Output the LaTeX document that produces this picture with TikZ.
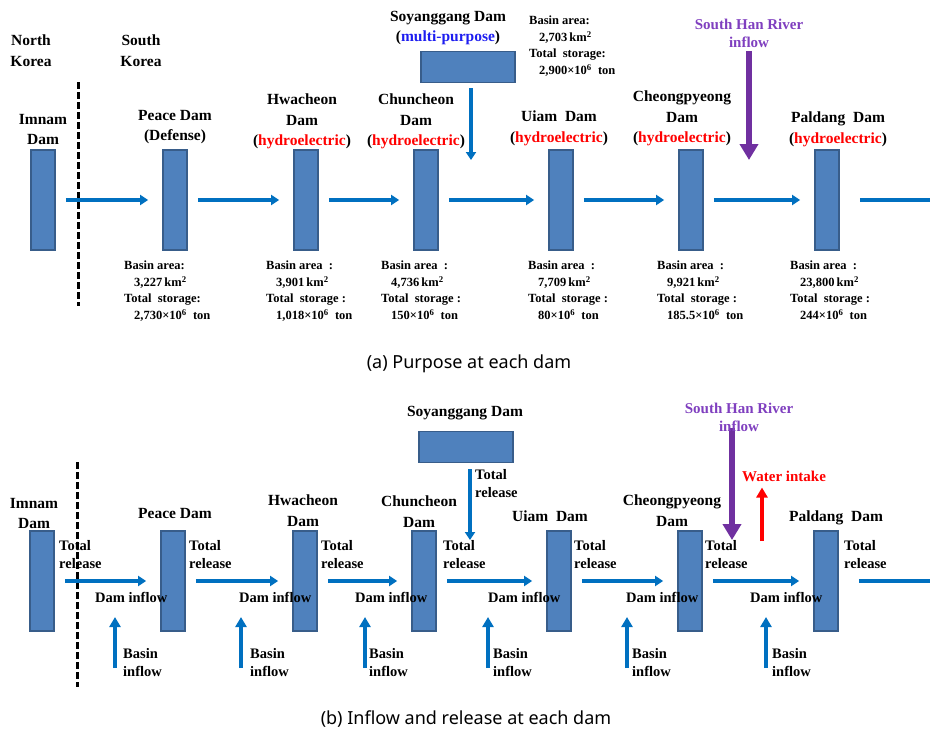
\documentclass[tikz,border=0pt]{standalone}
\usepackage{fontspec}
\setmainfont{Liberation Serif}
\newfontfamily\capfont{Noto Sans}
\usepackage{xcolor}
\usepackage{tikz}
\usetikzlibrary{arrows.meta, positioning, calc}

\definecolor{damfill}{HTML}{4F81BD}
\definecolor{damedge}{HTML}{385D8A}
\definecolor{flowblue}{HTML}{0070C0}
\definecolor{hanpurple}{HTML}{7030A0}
\definecolor{hantext}{HTML}{7F3FBF}
\definecolor{hydred}{HTML}{FF0000}
\definecolor{multiblue}{HTML}{1E1EF0}

\newcommand{\hydro}{(\textcolor{hydred}{hydroelectric})}

\begin{document}
\begin{tikzpicture}[
    x=1pt, y=-1pt,
    dam/.style={rectangle, draw=damedge, fill=damfill, line width=1.8pt, minimum width=24pt, minimum height=100pt, inner sep=0pt},
    soybox/.style={rectangle, draw=damedge, fill=damfill, line width=1.8pt, minimum width=94pt, minimum height=31pt, inner sep=0pt},
    damname/.style={font=\bfseries\fontsize{15.5}{20.5}\selectfont, align=center, inner sep=0pt, anchor=north},
    info/.style={font=\bfseries\fontsize{12.5}{16.5}\selectfont, align=left, inner sep=0pt, anchor=north west},
    note/.style={font=\bfseries\fontsize{14.5}{18.5}\selectfont, align=left, inner sep=0pt, anchor=north west},
    flow/.style={draw=flowblue, line width=3.2pt, -{Triangle[length=8pt,width=10pt]}},
    link/.style={flow, shorten <=10pt, shorten >=14pt},
    upflow/.style={draw=flowblue, line width=3.5pt, -{Triangle[length=10pt,width=11pt]}},
    border/.style={black, line width=3pt, dash pattern=on 6.5pt off 3.5pt},
    caption/.style={font=\capfont\fontsize{18}{22}\selectfont, inner sep=0pt}
]
\useasboundingbox (0,0) rectangle (930,732);

% ---------- (a) Purpose at each dam ----------
% Dams
\node[dam] (imA) at (43,200) {};
\node[dam] (peA) at (175,200) {};
\node[dam] (hwA) at (306,200) {};
\node[dam] (chA) at (426,200) {};
\node[dam] (uiA) at (561,200) {};
\node[dam] (cpA) at (691,200) {};
\node[dam] (paA) at (827,200) {};
\node[soybox] (soA) at (468,67) {};

% Border
\coordinate (divAtop) at (78,82);
\coordinate (divAbot) at (78,306);
\draw[border] (divAtop) -- (divAbot);

% Names
\node[damname] (nkA) at (31,35) {North\\Korea};
\node[damname] (skA) at (141,35) {South\\Korea};
\node[damname] (imAn) at (43,114) {Imnam\\Dam};
\node[damname] (peAn) at (175,110) {Peace Dam\\(Defense)};
\node[damname] (hwAn) at (302,94) {Hwacheon\\Dam\\\hydro};
\node[damname] (chAn) at (416,94) {Chuncheon\\Dam\\\hydro};
\node[damname] (soAn) at (448,11) {Soyanggang Dam\\(\textcolor{multiblue}{multi-purpose})};
\node[damname] (uiAn) at (559,111) {Uiam\ \ Dam\\\hydro};
\node[damname] (cpAn) at (682,91) {Cheongpyeong\\Dam\\\hydro};
\node[damname] (paAn) at (838,112) {Paldang\ \ Dam\\\hydro};
\node[damname, font=\bfseries\fontsize{15}{18}\selectfont, text=hantext] (hanA) at (749,19) {South Han River\\inflow};

% Basin data
\node[info] (soAi) at (529,16) {Basin area:\\\hspace*{10pt}2,703\,km\textsuperscript{2}\\Total\ \ storage:\\\hspace*{10pt}2,900×10\textsuperscript{6}\ \ ton};
\node[info] (peAi) at (124,261) {Basin area:\\\hspace*{10pt}3,227\,km\textsuperscript{2}\\Total\ \ storage:\\\hspace*{10pt}2,730×10\textsuperscript{6}\ \ ton};
\node[info] (hwAi) at (266,261) {Basin area\ \ :\\\hspace*{10pt}3,901\,km\textsuperscript{2}\\Total\ \ storage\ :\\\hspace*{10pt}1,018×10\textsuperscript{6}\ \ ton};
\node[info] (chAi) at (381,261) {Basin area\ \ :\\\hspace*{10pt}4,736\,km\textsuperscript{2}\\Total\ \ storage\ :\\\hspace*{10pt}150×10\textsuperscript{6}\ \ ton};
\node[info] (uiAi) at (528,261) {Basin area\ \ :\\\hspace*{10pt}7,709\,km\textsuperscript{2}\\Total\ \ storage\ :\\\hspace*{10pt}80×10\textsuperscript{6}\ \ ton};
\node[info] (cpAi) at (657,261) {Basin area\ \ :\\\hspace*{10pt}9,921\,km\textsuperscript{2}\\Total\ \ storage\ :\\\hspace*{10pt}185.5×10\textsuperscript{6}\ \ ton};
\node[info] (paAi) at (790,261) {Basin area\ \ :\\\hspace*{10pt}23,800\,km\textsuperscript{2}\\Total\ \ storage\ :\\\hspace*{10pt}244×10\textsuperscript{6}\ \ ton};

% Flows
\coordinate (outA) at (935,200);
\coordinate (soAin) at (471,160);
\coordinate (hanAin) at (749,160);
\draw[link] (imA) -- (peA);
\draw[link] (peA) -- (hwA);
\draw[link] (hwA) -- (chA);
\draw[link] (chA) -- (uiA);
\draw[link] (uiA) -- (cpA);
\draw[link] (cpA) -- (paA);
\draw[flow, -, shorten <=20pt] (paA) -- (outA);
\draw[flow, shorten <=5pt] (soA.south -| soAin) -- (soAin);
\draw[draw=hanpurple, line width=6pt, -{Triangle[length=16pt,width=18pt]}, shorten <=3pt] (hanA.south -| hanAin) -- (hanAin);

\node[caption] (capA) at (469,364) {(a) Purpose at each dam};

% ---------- (b) Inflow and release at each dam ----------
% Dams
\node[dam] (imB) at (42,581) {};
\node[dam] (peB) at (173,581) {};
\node[dam] (hwB) at (305,581) {};
\node[dam] (chB) at (424,581) {};
\node[dam] (uiB) at (559,581) {};
\node[dam] (cpB) at (690,581) {};
\node[dam] (paB) at (826,581) {};
\node[soybox] (soB) at (466,447) {};

% Border
\coordinate (divBtop) at (77,462);
\coordinate (divBbot) at (77,687);
\draw[border] (divBtop) -- (divBbot);

% Flows
\coordinate (outB) at (935,581);
\coordinate (soBin) at (470,540);
\coordinate (hanBtop) at (732,428);
\coordinate (hanBin) at (732,540);
\coordinate (takeB) at (762,541);
\draw[link] (imB) -- (peB);
\draw[link] (peB) -- (hwB);
\draw[link] (hwB) -- (chB);
\draw[link] (chB) -- (uiB);
\draw[link] (uiB) -- (cpB);
\draw[link] (cpB) -- (paB);
\draw[flow, -, shorten <=20pt] (paB) -- (outB);
\draw[flow, shorten <=6pt] (soB.south -| soBin) -- (soBin);
\draw[draw=hanpurple, line width=6pt, -{Triangle[length=16pt,width=18pt]}] (hanBtop) -- (hanBin);
\foreach \bx [count=\i] in {115,241,365,488,627,766} {
  \coordinate (bin\i) at (\bx,668);
  \coordinate (bout\i) at (\bx,617);
  \draw[upflow] (bin\i) -- (bout\i);
}

% Names
\node[damname] (imBn) at (34,498) {Imnam\\Dam};
\node[damname] (peBn) at (175,508) {Peace Dam};
\node[damname] (hwBn) at (303,495) {Hwacheon\\Dam};
\node[damname] (chBn) at (419,496) {Chuncheon\\Dam};
\node[damname] (soBn) at (465,406) {Soyanggang Dam};
\node[damname] (uiBn) at (550,511) {Uiam\ \ Dam};
\node[damname] (cpBn) at (672,495) {Cheongpyeong\\Dam};
\node[damname] (paBn) at (836,511) {Paldang\ \ Dam};
\node[damname, font=\bfseries\fontsize{15}{18}\selectfont, text=hantext] (hanB) at (739,403) {South Han River\\inflow};
\node[note, text=hydred, anchor=west, font=\bfseries\fontsize{15}{18}\selectfont] (takeBn) at (742,476) {Water intake};
\draw[draw=hydred, line width=4pt, -{Triangle[length=10pt,width=11pt]}, shorten >=6pt] (takeB) -- (takeBn.south -| takeB);

% Releases and inflows
\node[note] (soBr) at (475,469) {Total\\release};
\foreach \rx [count=\i] in {59,189,321,443,574,705,844}
  \node[note] (rel\i) at (\rx,540) {Total\\release};
\foreach \dx [count=\i] in {95,239,355,488,626,750}
  \node[note] (din\i) at (\dx,592) {Dam inflow};
\foreach \ix [count=\i] in {123,250,369,493,632,772}
  \node[note] (bas\i) at (\ix,648) {Basin\\inflow};

\node[caption] (capB) at (466,719) {(b) Inflow and release at each dam};

\end{tikzpicture}
\end{document}
